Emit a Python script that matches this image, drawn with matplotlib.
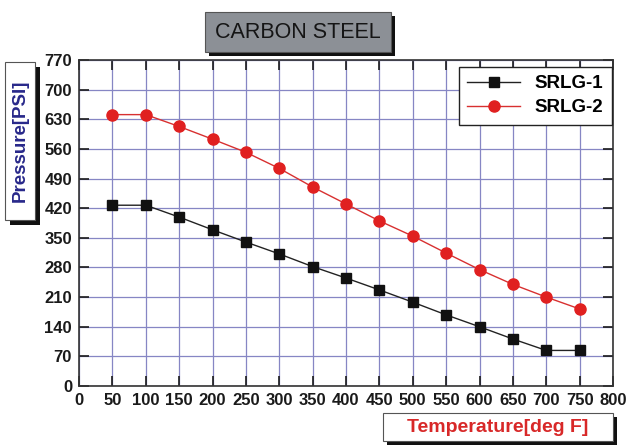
import matplotlib
matplotlib.use("Agg")
import matplotlib.pyplot as plt
from matplotlib.patches import Rectangle

temps = [50, 100, 150, 200, 250, 300, 350, 400, 450, 500, 550, 600, 650, 700, 750]
srlg1 = [427, 427, 399, 369, 340, 312, 282, 255, 227, 198, 168, 140, 111, 84, 84]
srlg2 = [641, 641, 613, 583, 552, 514, 470, 430, 390, 354, 314, 275, 240, 210, 182]
x_ticks = list(range(0, 801, 50))
y_ticks = list(range(0, 771, 70))

plt.rcParams["font.family"] = ["Liberation Sans", "DejaVu Sans"]

W, H = 634, 445


def box(fig, x0, y0, w, h, face, shadow=4):
    # pixel coords from top-left, drawn with a black drop shadow
    fig.patches.append(Rectangle(((x0 + shadow) / W, 1 - (y0 + h + shadow) / H),
                                 w / W, h / H, transform=fig.transFigure,
                                 facecolor="#111111", edgecolor="none", zorder=1))
    fig.patches.append(Rectangle((x0 / W, 1 - (y0 + h) / H), w / W, h / H,
                                 transform=fig.transFigure, facecolor=face,
                                 edgecolor="#555555", linewidth=0.8, zorder=2))


def main():
    fig = plt.figure(figsize=(W / 100, H / 100), dpi=100)
    ax = fig.add_axes([79 / W, 1 - 386 / H, (613 - 79) / W, (386 - 60) / H])

    ax.plot(temps, srlg1, color="#222222", lw=1, marker="s", ms=7,
            mfc="#111111", mec="#111111", label="SRLG-1", zorder=3)
    ax.plot(temps, srlg2, color="#d83030", lw=1, marker="o", ms=8,
            mfc="#e02020", mec="#e02020", label="SRLG-2", zorder=3)

    ax.set_xlim(0, 800)
    ax.set_ylim(0, 770)
    ax.set_xticks(x_ticks)
    ax.set_yticks(y_ticks)
    ax.grid(True, color="#8686c4", lw=0.9)
    ax.set_axisbelow(True)
    ax.tick_params(direction="in", length=7, width=1.2, top=True, right=True,
                   labelsize=12, pad=5, colors="#1a1a1a")
    for lab in ax.get_xticklabels() + ax.get_yticklabels():
        lab.set_fontweight("bold")
    for s in ax.spines.values():
        s.set_color("#333333")
        s.set_linewidth(1.2)

    leg = ax.legend(loc="upper right", fontsize=13.5, frameon=True, fancybox=False,
                    edgecolor="#222222", borderpad=0.45, handlelength=2.8,
                    bbox_to_anchor=(0.998, 0.979), borderaxespad=0,
                    labelspacing=0.35, framealpha=1)
    leg.get_frame().set_linewidth(1.0)
    for t in leg.get_texts():
        t.set_fontweight("bold")

    # title box
    box(fig, 205, 12, 186, 40, "#8c9096", shadow=4)
    fig.text(298 / W, 1 - 32 / H, "CARBON STEEL", ha="center", va="center",
             fontsize=15.5, color="#151515", zorder=5)

    # y label box
    box(fig, 5, 62, 30, 158, "white", shadow=5)
    fig.text(20 / W, 1 - 141 / H, "Pressure[PSI]", rotation=90, ha="center",
             va="center", fontsize=13.5, fontweight="bold", color="#28288a", zorder=5)

    # x label box
    box(fig, 383, 413, 230, 28, "white", shadow=4)
    fig.text(498 / W, 1 - 427 / H, "Temperature[deg F]", ha="center", va="center",
             fontsize=14, fontweight="bold", color="#d82828", zorder=5)

    fig.savefig("out.png", dpi=100)


if __name__ == "__main__":
    main()
